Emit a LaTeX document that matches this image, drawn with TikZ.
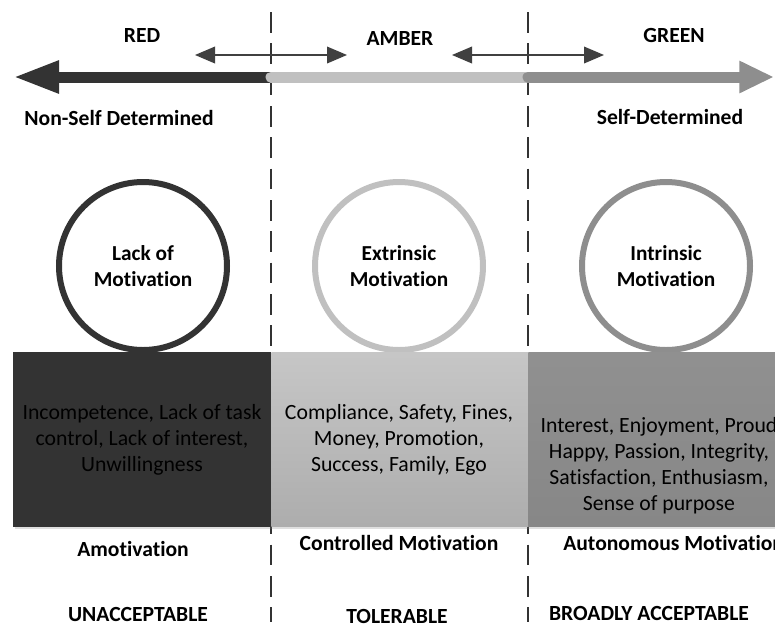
\documentclass[tikz,border=0pt]{standalone}
\usepackage{fontspec}
\setmainfont{Carlito}[Ligatures=NoCommon]
\usetikzlibrary{arrows.meta,shadows}

\definecolor{redzone}{HTML}{333333}
\definecolor{amberzone}{HTML}{C0C0C0}
\definecolor{greenzone}{HTML}{8E8E8E}
\definecolor{pointer}{HTML}{404040}

\def\leftsep{271}
\def\rightsep{528}

\begin{document}
\begin{tikzpicture}[x=0.75pt,y=-0.75pt]
    \tikzstyle{zone}=[font=\fontsize{16.2}{19}\selectfont\bfseries]
    \tikzstyle{motive}=[draw, circle, fill=white, line width=4.5pt, minimum size=126pt,
        align=center, font=\fontsize{16}{19.5}\selectfont\bfseries]
    \tikzstyle{factors}=[rectangle, anchor=north west, minimum height=131pt,
        drop shadow={opacity=0.25, shadow xshift=1pt, shadow yshift=-1.2pt}]
    \tikzstyle{listing}=[align=center, font=\fontsize{16.3}{19.5}\selectfont]
    \tikzstyle{border}=[redzone, line width=1.5pt, dash pattern=on 15.5pt off 8pt]
    \tikzstyle{crossing}=[pointer, line width=1.1pt,
        {Triangle[length=15pt,width=12.5pt]}-{Triangle[length=15pt,width=12.5pt]}]

    \useasboundingbox (0,0) rectangle (775,626);
    \clip (0,0) rectangle (775,626);

    % Dashed borders between the zones
    \foreach \name / \x in {left/\leftsep, right/\rightsep} {
        \coordinate (\name-top) at (\x,12);
        \coordinate (\name-bot) at (\x,622);
        \draw[border] (\name-top) -- (\name-bot);
    }

    % The scale from non-self determined to self-determined
    \coordinate (L-tip) at (13,77);
    \coordinate (L-sep) at (\leftsep,77);
    \coordinate (R-sep) at (\rightsep,77);
    \coordinate (R-tip) at (774,77);
    \draw[redzone, line width=8.25pt, -{Triangle[length=34.5pt,width=22.5pt]}] (L-sep) -- (L-tip);
    \draw[amberzone, line width=8.25pt, line cap=round] (L-sep) -- (R-sep);
    \draw[greenzone, line width=8.25pt, line cap=round,
        -{Triangle[length=26pt,width=22.5pt]}] (R-sep) -- (R-tip);

    % Moves across the borders
    \coordinate (s1-a) at (195,55);
    \coordinate (s1-b) at (347,55);
    \coordinate (s2-a) at (452,55);
    \coordinate (s2-b) at (604,55);
    \draw[crossing] (s1-a) -- (s1-b);
    \draw[crossing] (s2-a) -- (s2-b);

    % Zone names
    \node[zone] (red) at (142,35) {RED};
    \node[zone] (amber) at (400,38) {AMBER};
    \node[zone] (green) at (674,35) {GREEN};
    \node[zone] (nsd) at (119,118) {Non-Self Determined};
    \node[zone] (sd) at (670,117) {Self-Determined};

    % Kinds of motivation
    \node[motive, draw=redzone] (lack) at (143,266) {Lack of\\Motivation};
    \node[motive, draw=amberzone] (extr) at (399,266) {Extrinsic\\Motivation};
    \node[motive, draw=greenzone] (intr) at (666,266) {Intrinsic\\Motivation};

    % What each kind is made of
    \node[factors, fill=redzone, minimum width=193.5pt] (R-box) at (13,352) {};
    \node[factors, top color=amberzone!90!white, bottom color=amberzone!90!black,
        minimum width=193pt] (A-box) at (\leftsep,352) {};
    \node[factors, top color=greenzone!98!white, bottom color=greenzone!95!black,
        minimum width=200pt] (G-box) at (\rightsep,352) {};

    \node[listing] (R-list) at (142,440) {Incompetence, Lack of task\\control, Lack of interest,\\Unwillingness};
    \node[listing] (A-list) at (399,440) {Compliance, Safety, Fines,\\Money, Promotion,\\Success, Family, Ego};
    \node[listing] (G-list) at (659,466) {Interest, Enjoyment, Proud\\Happy, Passion, Integrity,\\Satisfaction, Enthusiasm,\\Sense of purpose};

    % Annotate the zones
    \node[zone] (amot) at (133,549) {Amotivation};
    \node[zone] (ctrl) at (399,543) {Controlled Motivation};
    \node[zone, anchor=west, inner sep=0pt] (auto) at (563,543) {Autonomous Motivation};
    \node[zone] (unacc) at (138,614) {UNACCEPTABLE};
    \node[zone] (tol) at (397,616) {TOLERABLE};
    \node[zone] (broad) at (649,613) {BROADLY ACCEPTABLE};
\end{tikzpicture}
\end{document}
